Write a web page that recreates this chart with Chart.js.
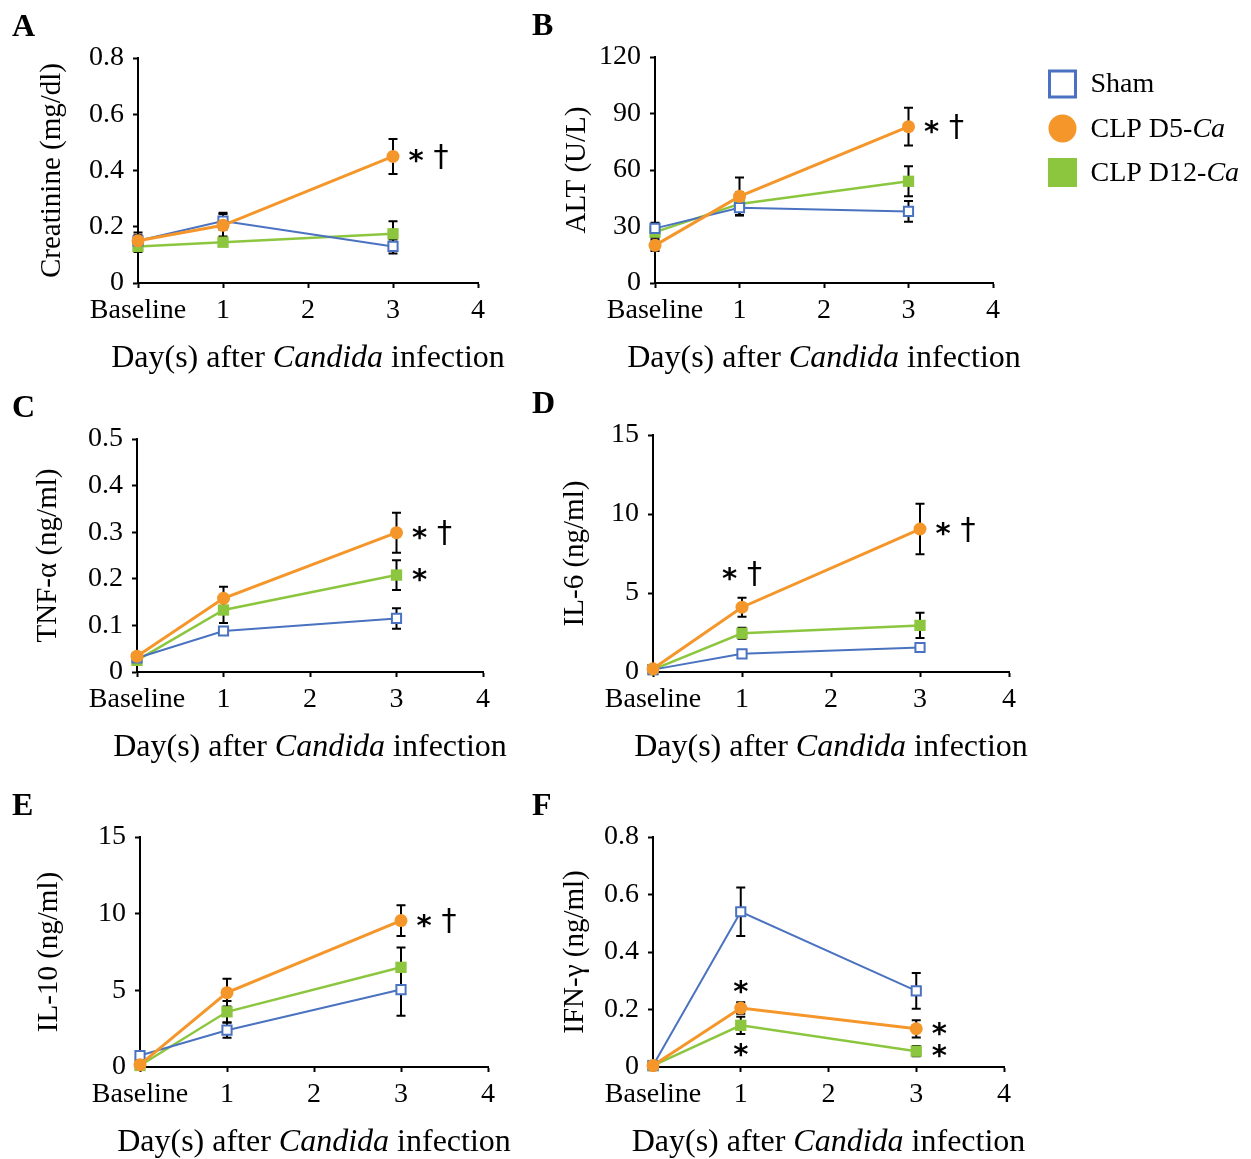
<!DOCTYPE html>
<html lang="en">
<head>
  <meta charset="UTF-8">
  <title>Candida infection time course</title>
  <script src="https://cdn.jsdelivr.net/npm/chart.js"></script>
  <style>
    body { margin: 0; background: #fff; }
    #wrap { position: relative; width: 1251px; height: 1159px; overflow: hidden; }
    #wrap canvas { position: absolute; }
  </style>
</head>
<body>
  <div id="wrap">
    <canvas id="cA"></canvas>
    <canvas id="cB"></canvas>
    <canvas id="cC"></canvas>
    <canvas id="cD"></canvas>
    <canvas id="cE"></canvas>
    <canvas id="cF"></canvas>
  </div>

  <script>
    // x positions of the measurements (0 = baseline) and axis labels
    const xDays = [0, 1, 3];
    const xTickLabels = ['Baseline', '1', '2', '3', '4'];
    const seriesNames = ['Sham', 'CLP D5-', 'CLP D12-'];   // "Ca" is added in italics

    // A - creatinine (mg/dl)
    const creatSham = [0.15, 0.22, 0.13];
    const creatShamErr = [0.03, 0.03, 0.025];
    const creatD5 = [0.15, 0.205, 0.45];
    const creatD5Err = [0.02, 0.04, 0.062];
    const creatD12 = [0.13, 0.145, 0.175];
    const creatD12Err = [0.02, 0.01, 0.045];

    // B - ALT (U/L)
    const altSham = [29, 40, 38];
    const altShamErr = [3, 4, 5.5];
    const altD5 = [20, 46, 83];
    const altD5Err = [3, 10, 10];
    const altD12 = [27, 42, 54];
    const altD12Err = [3, 6, 8];

    // C - TNF-alpha (ng/ml)
    const tnfSham = [0.03, 0.088, 0.115];
    const tnfShamErr = [0.005, 0.008, 0.022];
    const tnfD5 = [0.034, 0.158, 0.299];
    const tnfD5Err = [0.005, 0.025, 0.043];
    const tnfD12 = [0.025, 0.133, 0.208];
    const tnfD12Err = [0.005, 0.028, 0.032];

    // D - IL-6 (ng/ml)
    const il6Sham = [0.15, 1.15, 1.55];
    const il6ShamErr = [0.05, 0.1, 0.1];
    const il6D5 = [0.2, 4.1, 9.05];
    const il6D5Err = [0.05, 0.6, 1.6];
    const il6D12 = [0.15, 2.45, 2.95];
    const il6D12Err = [0.05, 0.35, 0.8];

    // E - IL-10 (ng/ml)
    const il10Sham = [0.75, 2.4, 5.05];
    const il10ShamErr = [0.15, 0.5, 1.7];
    const il10D5 = [0.15, 4.85, 9.55];
    const il10D5Err = [0.1, 0.9, 1.0];
    const il10D12 = [0.1, 3.6, 6.5];
    const il10D12Err = [0.1, 0.7, 1.3];

    // F - IFN-gamma (ng/ml)
    const ifnSham = [0.005, 0.54, 0.265];
    const ifnShamErr = [0, 0.084, 0.062];
    const ifnD5 = [0.005, 0.205, 0.133];
    const ifnD5Err = [0, 0.02, 0.03];
    const ifnD12 = [0.005, 0.145, 0.055];
    const ifnD12Err = [0, 0.03, 0.018];

    // significance marks: series index (0 sham, 1 D5, 2 D12), point index, symbols
    const creatMarks = [{ s: 1, i: 2, sym: ['*', '†'], place: 'right' }];
    const altMarks = [{ s: 1, i: 2, sym: ['*', '†'], place: 'right' }];
    const tnfMarks = [{ s: 1, i: 2, sym: ['*', '†'], place: 'right' }, { s: 2, i: 2, sym: ['*'], place: 'right' }];
    const il6Marks = [{ s: 1, i: 1, sym: ['*', '†'], place: 'above' }, { s: 1, i: 2, sym: ['*', '†'], place: 'right' }];
    const il10Marks = [{ s: 1, i: 2, sym: ['*', '†'], place: 'right' }];
    const ifnMarks = [
      { s: 1, i: 1, sym: ['*'], place: 'above' }, { s: 2, i: 1, sym: ['*'], place: 'below' },
      { s: 1, i: 2, sym: ['*'], place: 'right' }, { s: 2, i: 2, sym: ['*'], place: 'right' }
    ];

    const BLUE = '#4a72c0', ORANGE = '#f5962a', GREEN = '#8cc63f';
    const SERIF = "'Liberation Serif', 'Times New Roman', serif";

    // page geometry of each panel: canvas box + plot area (page px)
    const panels = [
      { id: 'cA', letter: 'A', box: [0, 0, 520, 390], area: [138, 58, 478, 283], yTitleX: 52,
        yTitle: 'Creatinine (mg/dl)', yMax: 0.8, yStep: 0.2,
        vals: [creatSham, creatD5, creatD12], errs: [creatShamErr, creatD5Err, creatD12Err], marks: creatMarks },
      { id: 'cB', letter: 'B', box: [520, 0, 731, 390], area: [655, 57, 993, 283], yTitleX: 57, legend: true,
        yTitle: 'ALT (U/L)', yMax: 120, yStep: 30,
        vals: [altSham, altD5, altD12], errs: [altShamErr, altD5Err, altD12Err], marks: altMarks },
      { id: 'cC', letter: 'C', box: [0, 390, 520, 390], area: [137, 439, 483, 672], yTitleX: 48,
        yTitle: 'TNF-α (ng/ml)', yMax: 0.5, yStep: 0.1,
        vals: [tnfSham, tnfD5, tnfD12], errs: [tnfShamErr, tnfD5Err, tnfD12Err], marks: tnfMarks },
      { id: 'cD', letter: 'D', box: [520, 390, 520, 390], area: [653, 435, 1009, 672], yTitleX: 55,
        yTitle: 'IL-6 (ng/ml)', yMax: 15, yStep: 5,
        vals: [il6Sham, il6D5, il6D12], errs: [il6ShamErr, il6D5Err, il6D12Err], marks: il6Marks },
      { id: 'cE', letter: 'E', box: [0, 780, 520, 379], area: [140, 837, 488, 1067], yTitleX: 49,
        yTitle: 'IL-10 (ng/ml)', yMax: 15, yStep: 5,
        vals: [il10Sham, il10D5, il10D12], errs: [il10ShamErr, il10D5Err, il10D12Err], marks: il10Marks },
      { id: 'cF', letter: 'F', box: [520, 780, 520, 379], area: [653, 837, 1004, 1067], yTitleX: 55,
        yTitle: 'IFN-γ (ng/ml)', yMax: 0.8, yStep: 0.2,
        vals: [ifnSham, ifnD5, ifnD12], errs: [ifnShamErr, ifnD5Err, ifnD12Err], marks: ifnMarks }
    ];

    function centeredText(ctx, txt, font, cx, cy) {
      ctx.font = font;
      const m = ctx.measureText(txt);
      ctx.textAlign = 'center';
      ctx.textBaseline = 'alphabetic';
      ctx.fillText(txt, cx, cy + (m.actualBoundingBoxAscent - m.actualBoundingBoxDescent) / 2);
    }

    function drawSym(ctx, sym, cx, cy) {
      if (sym === '*') centeredText(ctx, '*', "bold 29px 'DejaVu Sans'", cx, cy);
      else centeredText(ctx, '†', "30px 'DejaVu Sans'", cx, cy);
    }

    const extras = {
      id: 'extras',
      beforeDatasetsDraw(chart) {
        const p = panels.find(q => q.id === chart.canvas.id);
        const ctx = chart.ctx, y = chart.scales.y;
        ctx.save();
        ctx.strokeStyle = '#000';
        ctx.lineWidth = 2;
        p.errs.forEach((err, s) => {
          const meta = chart.getDatasetMeta(s);
          err.forEach((e, i) => {
            if (!e) return;
            const x = meta.data[i].x;
            const top = y.getPixelForValue(p.vals[s][i] + e);
            const bot = y.getPixelForValue(Math.max(p.vals[s][i] - e, 0));
            ctx.beginPath();
            ctx.moveTo(x, top); ctx.lineTo(x, bot);
            ctx.moveTo(x - 4.5, top); ctx.lineTo(x + 4.5, top);
            ctx.moveTo(x - 4.5, bot); ctx.lineTo(x + 4.5, bot);
            ctx.stroke();
          });
        });
        ctx.restore();
      },
      afterDraw(chart) {
        const p = panels.find(q => q.id === chart.canvas.id);
        const ctx = chart.ctx, y = chart.scales.y, a = chart.chartArea;
        ctx.save();
        ctx.fillStyle = '#000';

        // significance marks
        p.marks.forEach(m => {
          const pt = chart.getDatasetMeta(m.s).data[m.i];
          const v = p.vals[m.s][m.i], e = p.errs[m.s][m.i];
          if (m.place === 'right') {
            m.sym.forEach((c, k) => drawSym(ctx, c, pt.x + 23 + k * 25, pt.y));
          } else if (m.place === 'above') {
            const cy = y.getPixelForValue(v + e) - (m.sym.length > 1 ? 24 : 15);
            const w = (m.sym.length - 1) * 25;
            m.sym.forEach((c, k) => drawSym(ctx, c, pt.x - w / 2 + k * 25, cy));
          } else {
            const cy = y.getPixelForValue(Math.max(v - e, 0)) + 16;
            m.sym.forEach((c, k) => drawSym(ctx, c, pt.x, cy));
          }
        });

        // x axis title with italic genus name
        const parts = [['Day(s) after ', ''], ['Candida', 'italic '], [' infection', '']];
        const size = 32;
        let total = 0;
        parts.forEach(([t, st]) => { ctx.font = st + size + 'px ' + SERIF; total += ctx.measureText(t).width; });
        let x = (a.left + a.right) / 2 - total / 2;
        ctx.textAlign = 'left';
        ctx.textBaseline = 'alphabetic';
        parts.forEach(([t, st]) => {
          ctx.font = st + size + 'px ' + SERIF;
          ctx.fillText(t, x, a.bottom + 84);
          x += ctx.measureText(t).width;
        });

        // panel letter
        ctx.font = 'bold 32px ' + SERIF;
        ctx.fillText(p.letter, 12, p.area[1] - p.box[1] - 22);

        // legend
        if (p.legend) {
          const lx = 1062.5 - p.box[0], rows = [84, 128.5, 172.5];
          ctx.lineWidth = 3;
          ctx.strokeStyle = BLUE;
          ctx.fillStyle = '#fff';
          ctx.fillRect(lx - 13, rows[0] - 13, 26, 26);
          ctx.strokeRect(lx - 13, rows[0] - 13, 26, 26);
          ctx.fillStyle = ORANGE;
          ctx.beginPath(); ctx.arc(lx, rows[1], 14, 0, Math.PI * 2); ctx.fill();
          ctx.fillStyle = GREEN;
          ctx.fillRect(lx - 14.5, rows[2] - 14.5, 29, 29);
          ctx.fillStyle = '#000';
          ctx.textBaseline = 'middle';
          seriesNames.forEach((n, k) => {
            ctx.font = '28px ' + SERIF;
            ctx.fillText(n, lx + 28, rows[k] + 1);
            if (k > 0) {
              const w = ctx.measureText(n).width;
              ctx.font = 'italic 28px ' + SERIF;
              ctx.fillText('Ca', lx + 28 + w, rows[k] + 1);
            }
          });
        }
        ctx.restore();
      }
    };

    Chart.defaults.font.family = SERIF;
    Chart.defaults.color = '#000';

    panels.forEach(p => {
      const [bx, by, bw, bh] = p.box;
      const [al, at, ar, ab] = p.area;
      const cv = document.getElementById(p.id);
      cv.width = bw; cv.height = bh;
      cv.style.left = bx + 'px'; cv.style.top = by + 'px';

      const styles = [
        { borderColor: BLUE, borderWidth: 2, pointStyle: 'rect', pointRadius: 6.5, pointBorderWidth: 2,
          pointBackgroundColor: '#fff', pointBorderColor: BLUE, order: 1 },
        { borderColor: ORANGE, borderWidth: 3, pointStyle: 'circle', pointRadius: 6.5, pointBorderWidth: 0,
          pointBackgroundColor: ORANGE, order: 0 },
        { borderColor: GREEN, borderWidth: 2.5, pointStyle: 'rect', pointRadius: 8, pointBorderWidth: 0,
          pointBackgroundColor: GREEN, order: 2 }
      ];

      new Chart(cv, {
        type: 'line',
        data: {
          datasets: p.vals.map((vals, s) => Object.assign({
            label: seriesNames[s],
            data: vals.map((v, i) => ({ x: xDays[i], y: v })),
            fill: false,
            tension: 0
          }, styles[s]))
        },
        options: {
          responsive: false,
          animation: false,
          clip: false,
          layout: { padding: { left: 0, top: at - by, right: bx + bw - ar, bottom: 0 } },
          plugins: { legend: { display: false }, tooltip: { enabled: false } },
          scales: {
            x: {
              type: 'linear', min: 0, max: 4,
              afterFit: sc => { sc.height = by + bh - ab; },
              ticks: { stepSize: 1, font: { size: 28 }, padding: 6, maxRotation: 0, autoSkip: false,
                callback: v => xTickLabels[v] },
              grid: { drawOnChartArea: false, tickLength: 5, tickColor: '#000', tickWidth: 2 },
              border: { color: '#000', width: 2 }
            },
            y: {
              min: 0, max: p.yMax,
              afterFit: sc => { sc.width = al - bx; },
              ticks: { stepSize: p.yStep, font: { size: 28 }, padding: 9 },
              grid: { drawOnChartArea: false, tickLength: 5, tickColor: '#000', tickWidth: 2 },
              border: { color: '#000', width: 2 },
              title: { display: true, text: p.yTitle, font: { size: 29 },
                padding: { top: p.yTitleX - 17.4, bottom: 0 } }
            }
          }
        },
        plugins: [extras]
      });
    });
  </script>
</body>
</html>
